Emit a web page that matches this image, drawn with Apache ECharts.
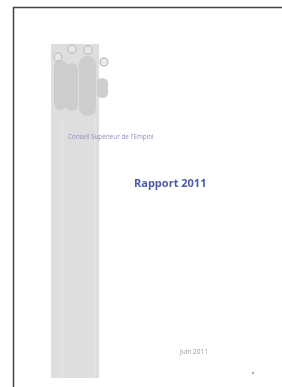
<!DOCTYPE html>
<html>
<head>
<meta charset="utf-8">
<script src="https://cdn.jsdelivr.net/npm/echarts@6/dist/echarts.min.js"></script>
<style>
  html, body { margin: 0; padding: 0; background: #fff; }
  #main { width: 282px; height: 387px; }
</style>
</head>
<body>
<div id="main"></div>
<script>
// texts of the cover page
const orgName = 'Conseil Supérieur de l\'Emploi'
const title = 'Rapport 2011'
const dateLabel = 'Juin 2011'

// logo circles: [x, y, r]
const logoDots = [[58, 57, 4], [72, 49, 4], [88, 50, 4], [104, 62, 4]]
// logo fingers: [x, y, w, h]
const logoFingers = [[54, 60, 13, 50], [66, 63, 12, 48], [79, 56, 17, 60], [97, 78, 11, 20]]

const chart = echarts.init(document.getElementById('main'))

const graphic = [
  // page frame (left + top)
  { type: 'polyline', shape: { points: [[13.5, 387], [13.5, 7.5], [282, 7.5]] },
    style: { stroke: '#444', lineWidth: 1.5, fill: null } },
  // gray band
  { type: 'rect', shape: { x: 51, y: 44, width: 48, height: 334 }, style: { fill: '#dedede' } },
  { type: 'line', shape: { x1: 62, y1: 118, x2: 62, y2: 378 }, style: { stroke: '#e6e6e6', lineWidth: 1 } },
  { type: 'line', shape: { x1: 95, y1: 118, x2: 95, y2: 378 }, style: { stroke: '#e6e6e6', lineWidth: 1 } }
]

logoFingers.forEach(f => {
  graphic.push({
    type: 'rect',
    shape: { x: f[0], y: f[1], width: f[2], height: f[3], r: f[2] / 2 },
    style: { fill: '#cdcdcd' }
  })
})
logoDots.forEach(d => {
  graphic.push({
    type: 'circle',
    shape: { cx: d[0], cy: d[1], r: d[2] },
    style: { fill: '#e8e8e8', stroke: '#c4c4c4', lineWidth: 1.5 }
  })
})

graphic.push(
  { type: 'text', left: 68, top: 134,
    style: { text: orgName, fill: '#8a90b8', font: '6.3px "Open Sans"' } },
  { type: 'text', left: 134, top: 178,
    style: { text: title, fill: '#4a5aa8', font: 'bold 11px "Open Sans"' } },
  { type: 'text', left: 180, top: 349,
    style: { text: dateLabel, fill: '#999', font: '6.5px "Open Sans"' } },
  { type: 'circle', shape: { cx: 253, cy: 373, r: 1.2 }, style: { fill: '#aaa' } }
)

chart.setOption({
  animation: false,
  backgroundColor: '#fff',
  graphic: graphic
})
</script>
</body>
</html>
